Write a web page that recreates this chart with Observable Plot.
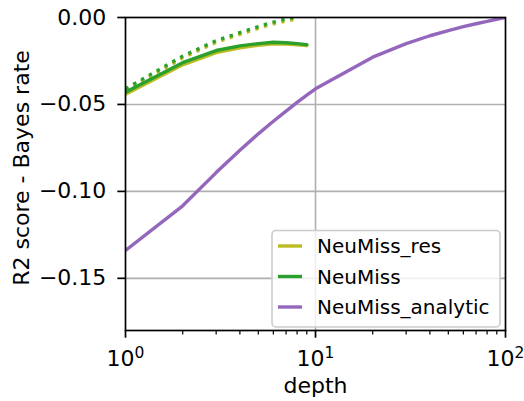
<!DOCTYPE html>
<html>
<head>
<meta charset="utf-8">
<script src="https://cdn.jsdelivr.net/npm/d3@7"></script>
<script src="https://cdn.jsdelivr.net/npm/@observablehq/plot@0.6"></script>
<style>
  html, body { margin: 0; padding: 0; background: #fff; }
  #chart { position: relative; width: 524px; height: 401px; font-family: "DejaVu Sans", sans-serif; }
  #chart svg { display: block; }
</style>
</head>
<body>
<div id="chart"></div>
<script>
// ---- data ----
const depthNM = [1, 2, 3, 4, 5, 6, 7, 8, 9];
const neumissRes = [-0.0442, -0.0272, -0.0202, -0.0174, -0.0160, -0.0152, -0.0153, -0.0157, -0.0162];
const neumiss    = [-0.0430, -0.0260, -0.0190, -0.0163, -0.0150, -0.0142, -0.0145, -0.0150, -0.0156];
const depthDot = [1, 2, 3, 4, 5, 6, 7, 8];
const neumissResDot = [-0.0420, -0.0232, -0.0143, -0.0097, -0.0062, -0.0037, -0.0020, -0.0008];
const neumissDot    = [-0.0410, -0.0222, -0.0133, -0.0087, -0.0052, -0.0027, -0.0008, 0.0003];
const depthAn = [1, 2, 3, 4, 5, 6, 7, 8, 9, 10, 20, 30, 40, 50, 60, 70, 80, 90, 100];
const analytic = [-0.1340, -0.1083, -0.0892, -0.0763, -0.0669, -0.0597, -0.0538, -0.0488, -0.0446, -0.0410,
                  -0.0228, -0.0150, -0.0105, -0.0075, -0.0053, -0.0036, -0.0022, -0.0010, 0.0];
const seriesNames = ["NeuMiss_res", "NeuMiss", "NeuMiss_analytic"];
const seriesColors = ["#bcbd22", "#2ca02c", "#9467bd"];
const xMajor = [1, 10, 100];
const xMinor = [2, 3, 4, 5, 6, 7, 8, 9, 20, 30, 40, 50, 60, 70, 80, 90];
const yTicks = [0, -0.05, -0.10, -0.15];

const toRows = (xs, ys) => xs.map((x, i) => ({x, y: ys[i]}));

const lw = 3.4;
const dash = "3.4,5.6";
const fs = 22;

const plot = Plot.plot({
  width: 524,
  height: 401,
  marginLeft: 125,
  marginRight: 19,
  marginTop: 17,
  marginBottom: 71,
  style: {fontFamily: "DejaVu Sans, sans-serif", fontSize: fs + "px", color: "#000", background: "#fff"},
  x: {type: "log", domain: [1, 100]},
  y: {domain: [-0.18, 0]},
  marks: [
    Plot.gridX(xMajor.filter(d => d === 10), {stroke: "#b0b0b0", strokeOpacity: 1, strokeWidth: 1.6}),
    Plot.gridY(yTicks.filter(d => d !== 0), {stroke: "#b0b0b0", strokeOpacity: 1, strokeWidth: 1.6}),
    Plot.line(toRows(depthNM, neumissRes), {x: "x", y: "y", stroke: seriesColors[0], strokeWidth: lw, clip: true}),
    Plot.line(toRows(depthDot, neumissResDot), {x: "x", y: "y", stroke: seriesColors[0], strokeWidth: lw, strokeDasharray: dash, strokeLinecap: "butt", clip: true}),
    Plot.line(toRows(depthNM, neumiss), {x: "x", y: "y", stroke: seriesColors[1], strokeWidth: lw, clip: true}),
    Plot.line(toRows(depthDot, neumissDot), {x: "x", y: "y", stroke: seriesColors[1], strokeWidth: lw, strokeDasharray: dash, strokeLinecap: "butt", clip: true}),
    Plot.line(toRows(depthAn, analytic), {x: "x", y: "y", stroke: seriesColors[2], strokeWidth: lw, clip: true}),
    Plot.frame({stroke: "#000", strokeWidth: 1.7}),
    Plot.axisY(yTicks, {
      tickSize: 7.7, tickPadding: 11.5, strokeWidth: 1.7, fontSize: fs,
      tickFormat: d => d === 0 ? "0.00" : "\u2212" + Math.abs(d).toFixed(2),
      label: null
    }),
    Plot.axisX(xMajor, {
      tickSize: 7.7, tickPadding: 12, strokeWidth: 1.7, fontSize: fs,
      tickFormat: d => "10^" + Math.round(Math.log10(d)),
      label: null
    }),
    Plot.axisX(xMinor, {tickSize: 4.4, strokeWidth: 1.2, tickFormat: () => "", label: null}),
    Plot.text(["depth"], {frameAnchor: "bottom", dy: 47, lineAnchor: "top", textAnchor: "middle", fontSize: fs}),
    Plot.text(["R2 score - Bayes rate"], {frameAnchor: "left", dx: -104, dy: -6, rotate: -90, lineAnchor: "middle", textAnchor: "middle", fontSize: fs})
  ]
});

// Render superscripts in x tick labels (10^n)
d3.select(plot).selectAll("text").each(function() {
  const t = d3.select(this);
  const s = t.text();
  const m = /^10\^(\d)$/.exec(s);
  if (m) {
    t.text("");
    t.append("tspan").text("10");
    t.append("tspan").attr("dy", "-7.5").attr("font-size", 15.5).text(m[1]);
  }
});

// Legend (inside axes, lower right)
const svg = d3.select(plot);
const lg = svg.append("g").attr("font-family", "DejaVu Sans, sans-serif").attr("font-size", 20).attr("text-anchor", "start");
lg.append("rect").attr("x", 272).attr("y", 230.5).attr("width", 228).attr("height", 96.5)
  .attr("rx", 4).attr("fill", "rgba(255,255,255,0.8)").attr("stroke", "#cccccc").attr("stroke-width", 1.6);
seriesNames.forEach((name, i) => {
  const yy = 246 + i * 30.5;
  lg.append("line").attr("x1", 278).attr("x2", 302).attr("y1", yy).attr("y2", yy)
    .attr("stroke", seriesColors[i]).attr("stroke-width", lw);
  lg.append("text").attr("x", 317).attr("y", yy).attr("dy", "0.36em").attr("fill", "#000")
    .attr("text-anchor", "start").text(name);
});

document.getElementById("chart").appendChild(plot);
</script>
</body>
</html>
